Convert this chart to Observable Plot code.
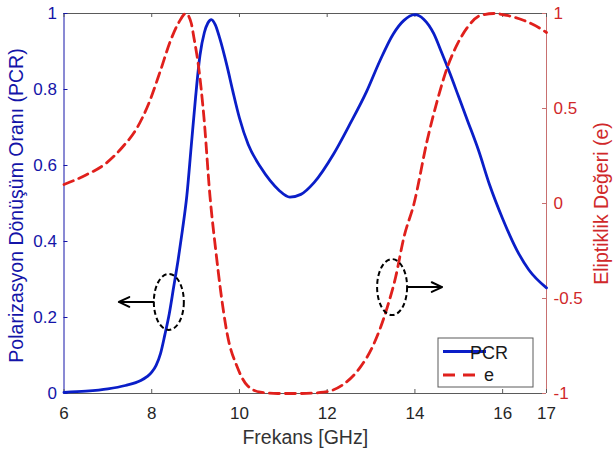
<!DOCTYPE html>
<html>
<head>
<meta charset="utf-8">
<script src="https://cdn.jsdelivr.net/npm/d3@7"></script>
<script src="https://cdn.jsdelivr.net/npm/@observablehq/plot@0.6"></script>
<style>
  html, body { margin: 0; padding: 0; background: #fff; }
  #chart { width: 616px; height: 454px; }
</style>
</head>
<body>
<div id="chart"></div>
<script>
// ---- data ----
const freqP = [6, 6.5, 7, 7.4, 7.75, 7.9, 8, 8.1, 8.2, 8.3, 8.4, 8.5, 8.6, 8.7, 8.8, 8.9, 9.0, 9.1, 9.2, 9.28, 9.36, 9.45, 9.55, 9.72, 9.85, 10.0, 10.2, 10.48, 10.7, 10.9, 11.15, 11.4, 11.7, 12.15, 12.5, 12.9, 13.2, 13.5, 13.75, 14.0, 14.2, 14.43, 14.6, 14.8, 15.0, 15.2, 15.45, 15.7, 16.0, 16.33, 16.6, 17];
const pcr = [0.003, 0.006, 0.012, 0.021, 0.034, 0.045, 0.056, 0.074, 0.105, 0.155, 0.21, 0.28, 0.35, 0.43, 0.52, 0.65, 0.78, 0.89, 0.95, 0.975, 0.984, 0.97, 0.935, 0.86, 0.795, 0.725, 0.655, 0.596, 0.56, 0.535, 0.517, 0.524, 0.555, 0.631, 0.705, 0.795, 0.875, 0.945, 0.982, 0.997, 0.985, 0.947, 0.9, 0.842, 0.78, 0.718, 0.64, 0.55, 0.46, 0.376, 0.325, 0.278];

const freqE = [6, 6.5, 6.95, 7.33, 7.67, 7.93, 8.2, 8.43, 8.62, 8.78, 8.9, 8.96, 9.07, 9.19, 9.33, 9.46, 9.57, 9.72, 9.95, 10.18, 10.48, 10.87, 11.39, 11.92, 12.38, 12.76, 13.03, 13.22, 13.37, 13.56, 13.75, 13.98, 14.28, 14.51, 14.74, 14.97, 15.2, 15.5, 15.8, 16.1, 16.49, 16.83, 17];
const eVal = [0.10, 0.15, 0.21, 0.296, 0.40, 0.525, 0.70, 0.858, 0.954, 1.0, 0.95, 0.875, 0.717, 0.454, 0.033, -0.247, -0.458, -0.686, -0.861, -0.958, -0.993, -1.0, -1.0, -0.993, -0.95, -0.86, -0.756, -0.65, -0.546, -0.388, -0.177, 0.0, 0.332, 0.542, 0.717, 0.84, 0.928, 0.99, 1.0, 0.99, 0.963, 0.925, 0.90];

const xTicks = [6, 8, 10, 12, 14, 16, 17];
const leftTicks = [0, 0.2, 0.4, 0.6, 0.8, 1];
const rightTicks = [-1, -0.5, 0, 0.5, 1];

const xLabel = "Frekans [GHz]";
const leftLabel = "Polarizasyon Dönüşüm Oranı (PCR)";
const rightLabel = "Eliptiklik Değeri (e)";
const seriesNames = ["PCR", "e"];

// annotation ellipses (center) and arrows (start/end frequency)
const annX = [8.39, 13.48];
const annY = [0.241, 0.28];
const arrowFrom = [8.04, 13.84];
const arrowTo = [7.25, 14.62];

// ---- derived tables ----
const pcrData = freqP.map((f, i) => ({f, v: pcr[i]}));
const eToY = e => (e + 1) / 2;           // right axis mapped onto left scale
const eData = freqE.map((f, i) => ({f, v: eToY(eVal[i])}));
const rightPos = rightTicks.map(eToY);
const ann = annX.map((x, i) => ({x, y: annY[i], a1: arrowFrom[i], a2: arrowTo[i]}));

// ---- style ----
const W = 616, H = 454;
const mL = 63.5, mR = 70, mT = 13, mB = 61;
const pw = W - mL - mR, ph = H - mT - mB;
const BLUE = "#0a1ec8", RED = "#e0201c";
const BLUE_TXT = "#1414a8", RED_TXT = "#d0282a", RED_AX = "#c87070", GRAY = "#5a5a5a";
const FONT = "Liberation Sans, Arial, Helvetica, sans-serif";

const ellipse = {
  draw(ctx) {
    const rx = 15, ry = 28, k = 0.5523;
    ctx.moveTo(rx, 0);
    ctx.bezierCurveTo(rx, ry * k, rx * k, ry, 0, ry);
    ctx.bezierCurveTo(-rx * k, ry, -rx, ry * k, -rx, 0);
    ctx.bezierCurveTo(-rx, -ry * k, -rx * k, -ry, 0, -ry);
    ctx.bezierCurveTo(rx * k, -ry, rx, -ry * k, rx, 0);
    ctx.closePath();
  }
};

const chart = Plot.plot({
  width: W, height: H,
  marginLeft: mL, marginRight: mR, marginTop: mT, marginBottom: mB,
  style: {fontFamily: FONT, background: "#fff", overflow: "visible"},
  x: {domain: [6, 17]},
  y: {domain: [0, 1]},
  marks: [
    // frame lines
    Plot.ruleY([0, 1], {stroke: GRAY, strokeWidth: 1}),
    Plot.ruleX([6], {stroke: BLUE_TXT, strokeWidth: 1}),
    Plot.ruleX([17], {stroke: RED_AX, strokeWidth: 1}),
    // inward ticks
    Plot.tickX(xTicks, {x: d => d, insetTop: ph - 4, stroke: GRAY}),
    Plot.tickX(xTicks, {x: d => d, insetBottom: ph - 4, stroke: GRAY}),
    Plot.tickY(leftTicks, {y: d => d, insetRight: pw - 4, stroke: BLUE_TXT}),
    Plot.tickY(rightPos, {y: d => d, insetLeft: pw - 4, stroke: RED_AX}),
    // axes (labels only)
    Plot.axisX({ticks: xTicks, tickFormat: d => String(d), tickSize: 0, tickPadding: 13,
      fontSize: 17, fill: "#262626", label: null}),
    Plot.axisY({ticks: leftTicks, tickFormat: d => String(d), tickSize: 0, tickPadding: 7,
      fontSize: 17, fill: BLUE_TXT, label: null, anchor: "left"}),
    Plot.axisY({ticks: rightPos, tickFormat: (d, i) => String(rightTicks[i]), tickSize: 0, tickPadding: 7,
      fontSize: 17, fill: RED_TXT, label: null, anchor: "right"}),
    // axis titles
    Plot.text([xLabel], {frameAnchor: "bottom", dy: 44, fontSize: 19.5, fill: "#333", lineAnchor: "middle", textAnchor: "middle"}),
    Plot.text([leftLabel], {frameAnchor: "left", dx: -47.5, dy: 2, rotate: -90, fontSize: 19.5, fill: BLUE_TXT, lineAnchor: "middle", textAnchor: "middle"}),
    Plot.text([rightLabel], {frameAnchor: "right", dx: 55, rotate: -90, fontSize: 19.5, fill: RED_TXT, lineAnchor: "middle", textAnchor: "middle"}),
    // series
    Plot.line(pcrData, {x: "f", y: "v", stroke: BLUE, strokeWidth: 2.8, curve: "monotone-x"}),
    Plot.line(eData, {x: "f", y: "v", stroke: RED, strokeWidth: 2.8, strokeDasharray: "10,6", curve: "monotone-x"}),
    // annotations
    Plot.dot(ann, {x: "x", y: "y", symbol: ellipse, fill: "none", stroke: "black", strokeWidth: 2, strokeDasharray: "5,3"}),
    Plot.arrow(ann, {x1: "a1", x2: "a2", y1: "y", y2: "y", stroke: "black", strokeWidth: 2, headLength: 12, headAngle: 50}),
    // legend box
    Plot.rect([0], {insetLeft: 438 - mL, insetRight: (W - mR) - 533, insetTop: 338 - mT, insetBottom: (H - mB) - 387,
      fill: "white", stroke: GRAY, strokeWidth: 1})
  ]
});

// legend samples & texts
const svg = d3.select(chart);
const lg = svg.append("g").attr("font-family", FONT).attr("font-size", 18).attr("fill", "#1a1a1a");
lg.append("line").attr("x1", 443).attr("x2", 486).attr("y1", 351.5).attr("y2", 351.5)
  .attr("stroke", BLUE).attr("stroke-width", 2.8);
lg.append("line").attr("x1", 443).attr("x2", 480).attr("y1", 375).attr("y2", 375)
  .attr("stroke", RED).attr("stroke-width", 2.8).attr("stroke-dasharray", "12,8");
lg.append("text").attr("x", 489).attr("y", 358.5).text(seriesNames[0]);
lg.append("text").attr("x", 489).attr("y", 381).text(seriesNames[1]);

document.getElementById("chart").appendChild(chart);
</script>
</body>
</html>
